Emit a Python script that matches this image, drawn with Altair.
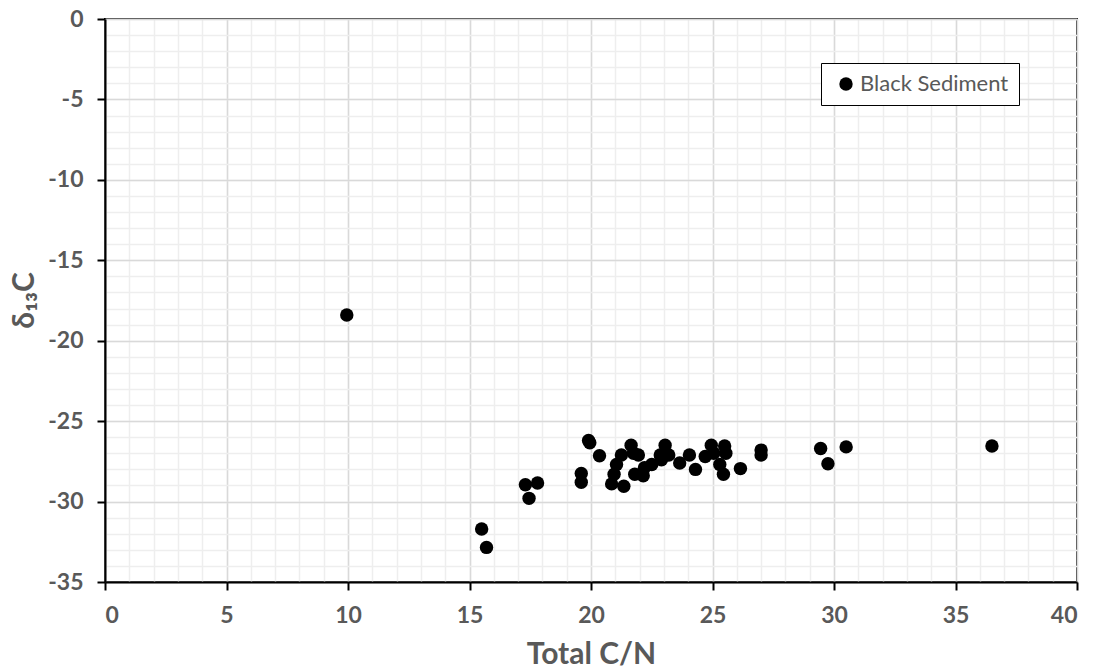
import altair as alt
import pandas as pd

# Data
cn_ratio = [9.95, 15.5, 15.7, 17.3, 17.8, 17.45, 19.6, 19.6, 19.9, 19.95, 20.35, 20.85,
            21.35, 20.95, 21.05, 21.25, 21.65, 21.75, 21.95, 21.8, 22.15, 22.2, 22.5,
            22.85, 23.05, 23.2, 22.9, 23.65, 24.05, 24.3, 24.7, 24.95, 25.05, 25.5,
            25.55, 25.3, 25.45, 26.15, 27.0, 27.0, 29.45, 30.5, 29.75, 36.5]
d13c = [-18.4, -31.7, -32.85, -28.95, -28.85, -29.8, -28.25, -28.8, -26.2, -26.35, -27.15,
        -28.9, -29.05, -28.3, -27.7, -27.1, -26.5, -27.0, -27.1, -28.3, -28.4, -27.9,
        -27.7, -27.1, -26.5, -27.1, -27.4, -27.6, -27.1, -28.0, -27.2, -26.5, -27.0,
        -26.55, -27.0, -27.7, -28.3, -27.95, -26.8, -27.1, -26.7, -26.6, -27.65, -26.55]
series_name = "Black Sediment"

major_x = list(range(0, 41, 5))
minor_x = list(range(0, 41, 1))
major_y = list(range(-35, 1, 5))
minor_y = list(range(-35, 1, 1))

df = pd.DataFrame({"cn": cn_ratio, "d13c": d13c, "series": [series_name] * len(cn_ratio)})

GRAY = "#595959"
FONT = "Lato"

xscale = alt.Scale(domain=[0, 40], nice=False, zero=False)
yscale = alt.Scale(domain=[-35, 0], nice=False, zero=False)

minor = alt.Chart(df).mark_point(opacity=0).encode(
    x=alt.X("cn:Q", scale=xscale,
            axis=alt.Axis(orient="top", values=minor_x, labels=False, ticks=False,
                          domain=False, title=None, grid=True, gridColor="#eeeeee",
                          gridWidth=1.5)),
    y=alt.Y("d13c:Q", scale=yscale,
            axis=alt.Axis(orient="right", values=minor_y, labels=False, ticks=False,
                          domain=False, title=None, grid=True, gridColor="#eeeeee",
                          gridWidth=1.5)),
)

major_grid = alt.Chart(df).mark_point(opacity=0).encode(
    x=alt.X("cn:Q", scale=xscale,
            axis=alt.Axis(orient="top", values=major_x, labels=False, ticks=False,
                          domain=False, title=None, grid=True, gridColor="#d9d9d9",
                          gridWidth=1.5)),
    y=alt.Y("d13c:Q", scale=yscale,
            axis=alt.Axis(orient="right", values=major_y, labels=False, ticks=False,
                          domain=False, title=None, grid=True, gridColor="#d9d9d9",
                          gridWidth=1.5)),
)

points = alt.Chart(df).mark_circle(size=180, opacity=1).encode(
    x=alt.X("cn:Q", scale=xscale,
            axis=alt.Axis(orient="bottom", values=major_x, grid=False, title="Total C/N",
                          labelExpr="'' + datum.value",
                          domainColor="black", domainWidth=2, tickColor="black",
                          tickWidth=2, tickSize=8, labelPadding=14,
                          labelFont=FONT, labelFontSize=23, labelFontWeight="bold",
                          labelColor=GRAY, titleFont=FONT, titleFontSize=30,
                          titleFontWeight="bold", titleColor=GRAY,
                          titleBaseline="alphabetic", titleY=81)),
    y=alt.Y("d13c:Q", scale=yscale,
            axis=alt.Axis(orient="left", values=major_y, grid=False, title="δ₁₃C",
                          labelExpr="'' + datum.value",
                          domainColor="black", domainWidth=2, tickColor="black",
                          tickWidth=2, tickSize=8, labelPadding=14,
                          labelFont=FONT, labelFontSize=23, labelFontWeight="bold",
                          labelColor=GRAY, titleFont=FONT, titleFontSize=30,
                          titleFontWeight="bold", titleColor=GRAY,
                          titleAngle=270, titleAlign="center",
                          titleBaseline="alphabetic", titleX=-72, titleY=281)),
    color=alt.Color("series:N", scale=alt.Scale(range=["black"]),
                    legend=alt.Legend(title=None, orient="none", legendX=716, legendY=44,
                                      fillColor="white", strokeColor="black",
                                      padding=10, symbolType="circle", symbolSize=180,
                                      symbolOffset=4, labelOffset=3,
                                      labelFont=FONT, labelFontSize=22, labelColor=GRAY)),
)

chart = alt.layer(minor, major_grid, points).resolve_axis(
    x="independent", y="independent"
).properties(
    width=972, height=563,
    autosize=alt.AutoSizeParams(type="none"),
    padding={"left": 105, "top": 19, "right": 17, "bottom": 87},
).configure_view(stroke="black", strokeWidth=2)

chart.save("out.html", embed_options={"renderer": "svg", "actions": False})
